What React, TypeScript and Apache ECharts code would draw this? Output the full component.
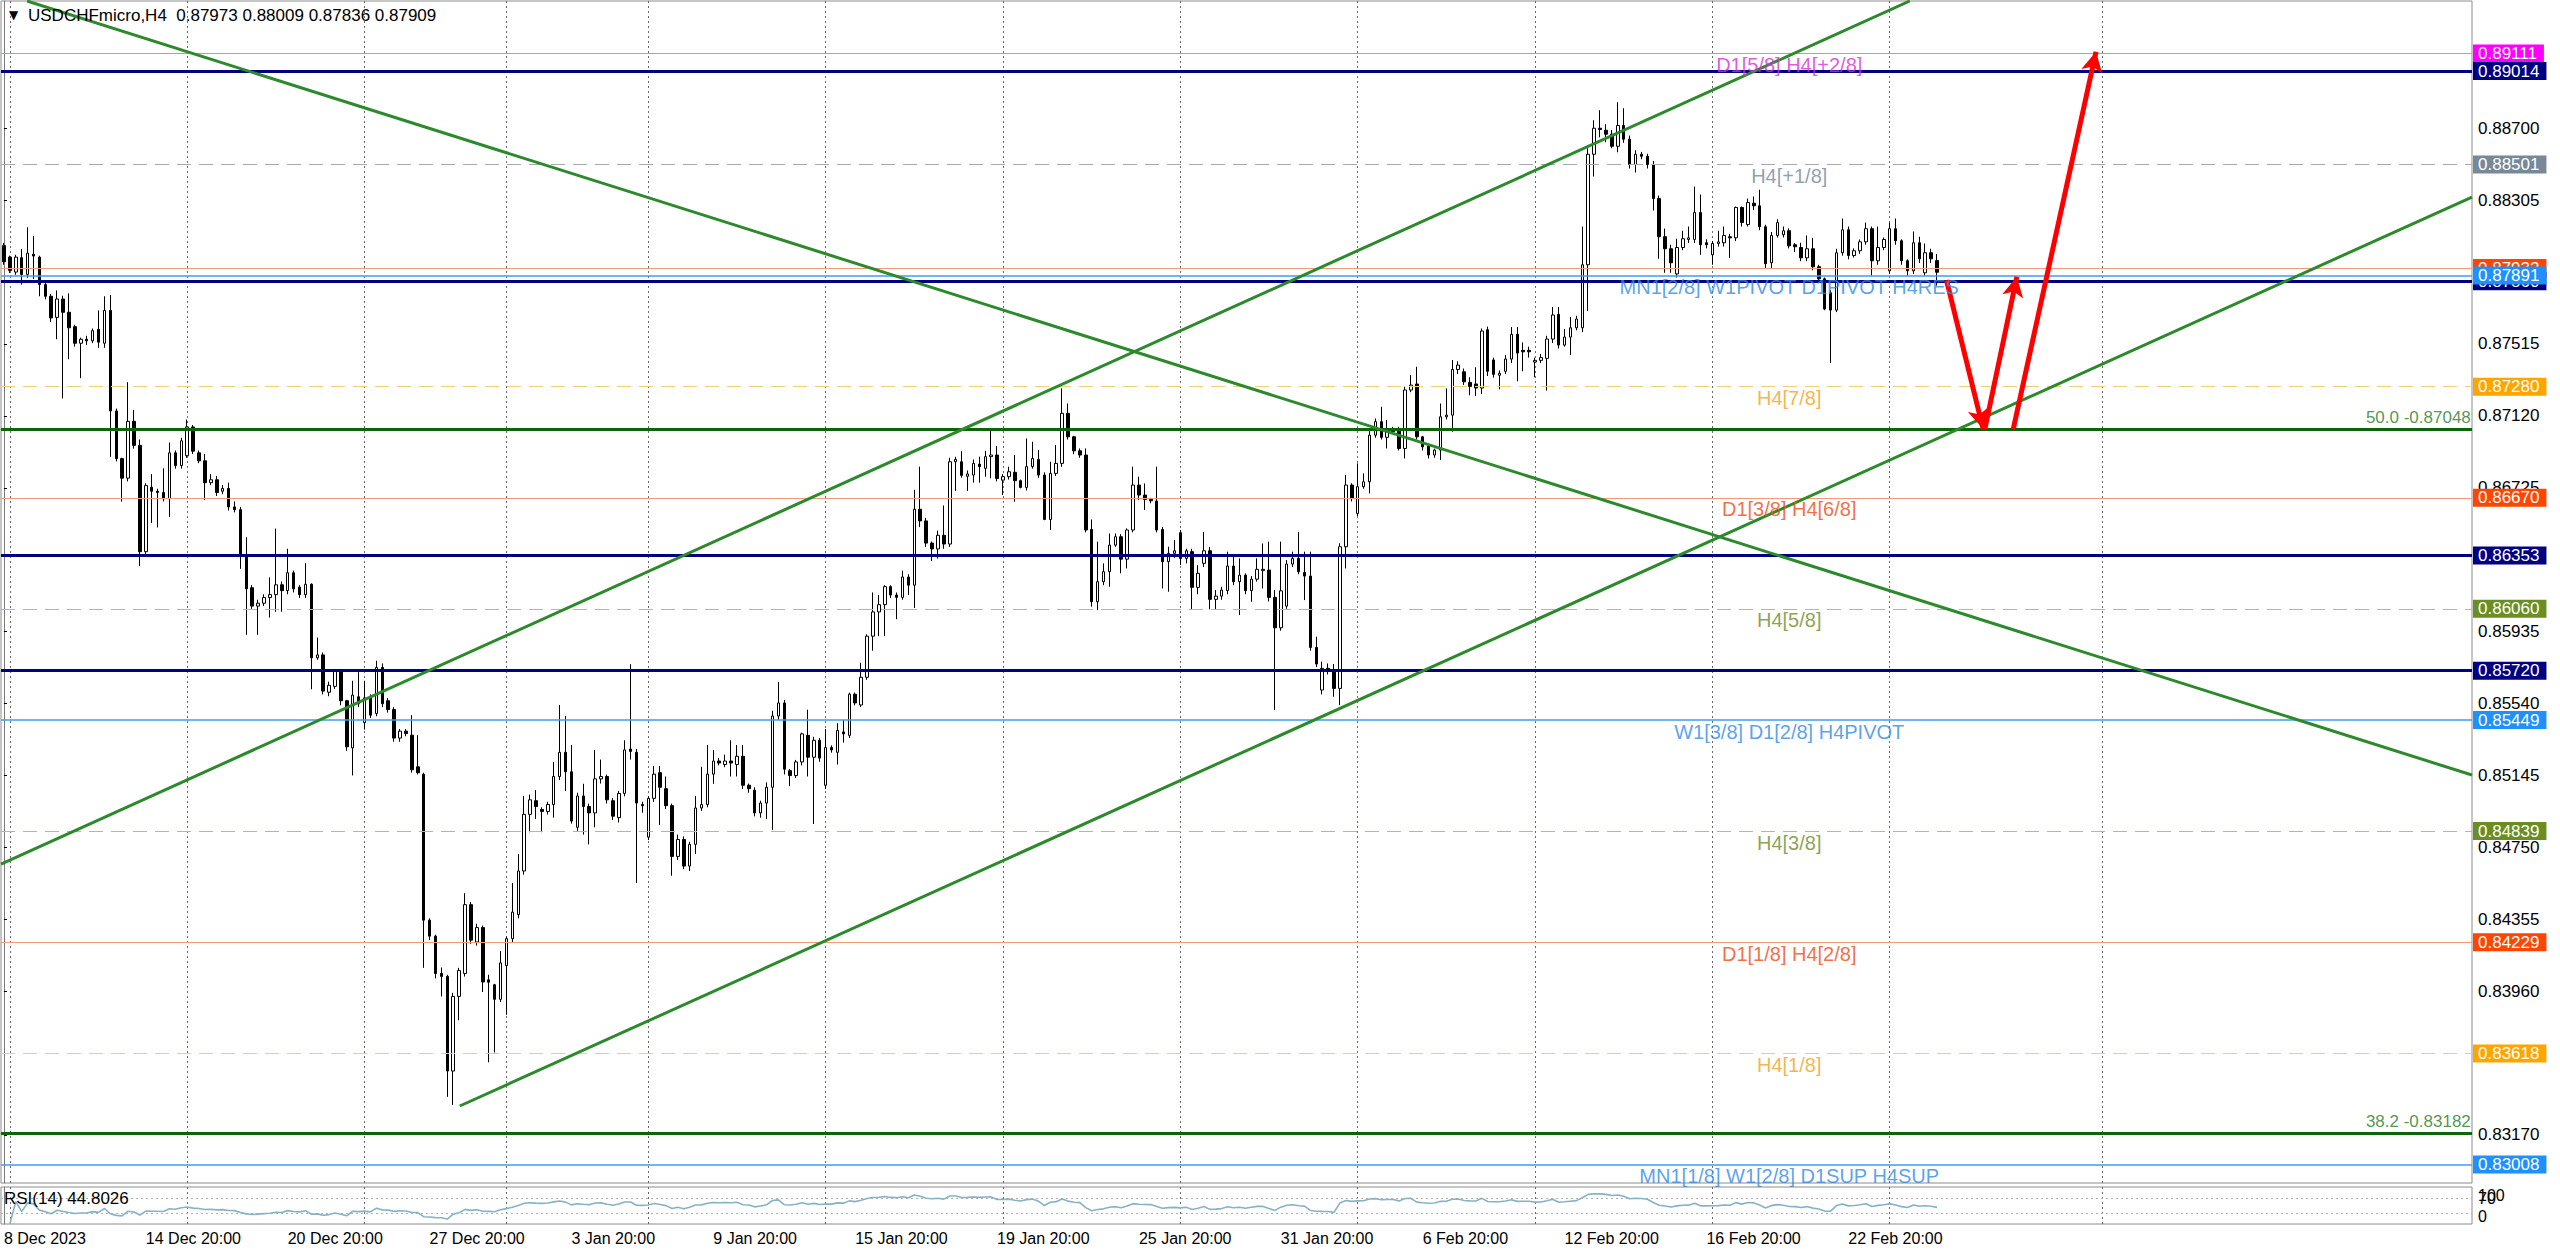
import React, { useEffect, useRef } from 'react';
import * as echarts from 'echarts';

const FONT = '"Liberation Sans", Arial, sans-serif';
const SLOTS = 418; // visible bar slots, incl. empty future area
const SCALE = 100000; // prices are stored in points

const opens = [
88055,87992,87910,87989,87897,88008,87992,87841,87777,87661,
87762,87689,87610,87519,87541,87532,87595,87519,87699,87147,
86885,86778,87090,86958,86374,86728,86706,86699,86665,86917,
86847,86901,87059,86917,86873,86753,86769,86706,86721,86620,
86605,86359,86176,86075,86091,86122,86138,86192,86160,86258,
86179,86138,86195,85791,85807,85602,85634,85719,85555,85296,
85577,85435,85577,85485,85738,85555,85507,85350,85388,85366,
85192,85151,84350,84262,84057,84041,83521,83931,84057,84435,
84230,84309,84022,83995,83915,84100,84248,84380,84620,84931,
85006,84958,84947,84985,85139,85272,85165,84860,85032,84974,
84939,85126,85139,85006,84913,85046,85290,85272,84985,84806,
85019,85160,85072,84979,84700,84793,84647,84766,84966,84985,
85152,85224,85205,85224,85205,85250,85091,85064,84939,84993,
85080,85471,85543,85171,85144,85219,85365,85245,85338,85091,
85298,85272,85384,85365,85591,85532,85684,85910,86043,86083,
86182,86136,86123,86235,86190,86607,86543,86421,86389,86464,
86416,86868,86868,86788,86795,86855,86832,86896,86905,86767,
86786,86810,86764,86727,86841,86881,86795,86551,86804,86859,
87134,87005,86928,86905,86496,86099,86209,86264,86410,86456,
86333,86493,86740,86685,86661,86652,86496,86319,86365,86478,
86337,86374,86178,86310,86379,86112,86130,86160,86295,86209,
86245,86160,86223,86270,86273,86123,85956,86075,86306,86337,
86260,86240,85848,85614,85733,85720,85623,86401,86740,86584,
86731,86758,87014,87088,87002,87042,87042,86941,87262,87295,
87005,86954,86905,86932,87115,87124,87375,87362,87304,87295,
87273,87593,87427,87343,87365,87432,87568,87480,87480,87416,
87425,87436,87542,87678,87509,87553,87604,87604,87950,88557,
88700,88689,88667,88601,88715,88640,88501,88557,88546,88501,
88314,88104,88038,87900,88045,88089,88089,88237,88071,88005,
88067,88071,88104,88098,88265,88171,88288,88274,88159,87961,
88111,88115,88137,88060,88045,87988,88038,87939,87873,87796,
87701,88016,88142,88001,88027,88076,88148,87972,88045,87917,
88148,88082,87972,87917,88071,87906,88016,87973
];

const highs = [
88070,88000,88005,88036,88156,88109,88000,87850,87790,87809,
87780,87793,87620,87550,87560,87600,87699,87777,87784,87160,
86890,87305,87153,86990,86750,86800,86720,86832,86974,86930,
87000,87100,87070,86930,86911,86800,86790,86740,86753,86650,
86620,86453,86190,86110,86140,86233,86501,86210,86390,86270,
86190,86311,86200,85902,85820,85660,85730,85730,85560,85665,
85712,85665,85590,85775,85760,85570,85520,85400,85400,85476,
85366,85160,84360,84270,84090,84050,83950,84088,84498,84450,
84330,84320,84050,84000,84180,84260,84554,84713,85032,85040,
85064,84970,85000,85219,85532,85472,85312,85050,85099,84990,
85285,85232,85150,85020,85060,85338,85756,85290,85000,85030,
85197,85197,85139,84990,84820,84810,84780,85032,85192,85312,
85285,85240,85259,85338,85312,85312,85100,85080,85006,85107,
85500,85658,85560,85180,85230,85380,85506,85357,85350,85400,
85310,85432,85450,85600,85600,85764,85920,86150,86136,86190,
86190,86150,86270,86250,86714,86841,86560,86430,86490,86628,
86890,86895,86926,86820,86880,86896,86928,87038,86954,86800,
86841,86905,86770,86996,86978,86932,86810,86868,86960,87271,
87188,87010,86941,86941,86551,86429,86310,86474,86474,86470,
86502,86841,86786,86749,86670,86841,86510,86401,86438,86493,
86390,86390,86300,86483,86400,86163,86181,86374,86346,86337,
86255,86240,86337,86419,86429,86163,86429,86328,86374,86483,
86374,86374,85907,85770,85760,85757,86420,86795,86750,86859,
86804,87051,87106,87170,87097,87060,87060,87280,87344,87390,
87010,86960,86940,87188,87271,87427,87420,87380,87332,87387,
87600,87610,87440,87370,87454,87608,87608,87524,87500,87440,
87460,87560,87718,87718,87597,87663,87670,88160,88590,88744,
88799,88722,88690,88843,88810,88660,88579,88570,88560,88520,
88330,88149,88060,88093,88137,88160,88380,88336,88090,88080,
88137,88160,88120,88270,88270,88314,88325,88362,88170,88130,
88200,88160,88150,88070,88071,88111,88098,87950,87880,87810,
88038,88204,88160,88040,88089,88182,88160,88160,88100,88182,
88204,88090,87980,88133,88104,88067,88038,88009
];

const lows = [
87950,87905,87895,87841,87878,87872,87777,87760,87636,87541,
87216,87431,87500,87327,87510,87520,87494,87494,86895,86870,
86649,86760,86940,86296,86350,86532,86507,86650,86564,86830,
86830,86890,86910,86860,86658,86740,86680,86690,86600,86590,
86280,85917,86060,85917,86075,86012,86044,86044,86140,86150,
86120,86120,85618,85780,85590,85580,85620,85530,85280,85145,
85520,85397,85460,85470,85520,85490,85330,85330,85360,85160,
85150,84088,84240,84030,83931,83379,83335,83800,84040,84220,
84210,83955,83569,83623,83900,83830,84230,84360,84600,84833,
84905,84833,84930,84913,85120,85059,84880,84840,84820,84766,
84860,85100,84990,84900,84886,85030,85232,84554,84940,84790,
85000,84873,84960,84594,84680,84630,84620,84713,84950,84970,
85099,85200,85190,85139,85139,85070,85050,84920,84913,84905,
84846,85450,85150,85086,85130,85200,85139,84878,85220,85070,
85270,85205,85325,85350,85530,85520,85670,85830,85910,85910,
86120,86003,86110,86136,86065,86509,86400,86323,86336,86390,
86400,86708,86780,86708,86753,86753,86786,86777,86760,86685,
86770,86648,86722,86710,86830,86780,86547,86493,86790,86840,
86990,86910,86890,86480,86072,86053,86190,86181,86400,86255,
86282,86480,86658,86603,86640,86480,86172,86154,86340,86300,
86310,86057,86140,86290,86057,86057,86110,86140,86190,86026,
86140,86099,86210,86172,86100,85504,85940,86060,86290,86250,
86108,85830,85740,85590,85700,85577,85531,86282,86650,86570,
86720,86694,87000,86990,86941,87020,86930,86886,87250,86990,
86930,86886,86890,86877,87100,87033,87350,87290,87233,87229,
87240,87339,87330,87266,87350,87410,87310,87365,87440,87332,
87410,87259,87520,87490,87500,87454,87590,87580,87696,88435,
88650,88623,88590,88568,88620,88479,88457,88530,88479,88248,
87983,87906,87906,87880,88030,88070,88070,88005,88040,87950,
88050,88050,87987,88080,88160,88160,88250,88140,87930,87928,
88100,88100,88040,88020,87970,87970,87920,87851,87700,87410,
87690,88000,87980,87990,88010,88060,87890,87950,88030,87900,
88060,87950,87890,87900,87960,87890,87960,87836
];

const closes = [
87967,87919,87992,87897,88014,87998,87841,87777,87658,87762,
87689,87604,87519,87541,87532,87588,87525,87699,87147,86885,
86778,87090,86958,86374,86737,86706,86699,86665,86917,86847,
86983,87059,86926,86873,86753,86769,86699,86721,86620,86605,
86359,86170,86075,86091,86122,86138,86192,86160,86258,86170,
86138,86195,85791,85807,85608,85640,85719,85555,85302,85586,
85539,85571,85476,85738,85539,85507,85350,85388,85375,85176,
85160,84350,84262,84057,84041,83521,83931,84073,84435,84240,
84309,84010,84009,83915,84115,84248,84394,84620,84931,85011,
84974,84947,84985,85139,85272,85165,84894,85032,84974,84939,
85126,85139,85011,84921,85046,85285,85277,84993,84979,85019,
85152,85080,84979,84700,84793,84647,84766,84966,84985,85152,
85224,85213,85224,85213,85250,85091,85072,84939,84993,85080,
85471,85543,85179,85144,85219,85373,85245,85338,85240,85298,
85285,85392,85373,85591,85543,85684,85910,86043,86083,86182,
86136,86123,86235,86190,86607,86543,86421,86389,86464,86416,
86868,86881,86793,86801,86859,86841,86896,86905,86776,86786,
86813,86764,86727,86841,86886,86795,86551,86804,86859,87134,
87005,86928,86905,86493,86099,86209,86264,86410,86456,86333,
86493,86740,86685,86661,86654,86493,86319,86365,86379,86337,
86379,86178,86255,86379,86112,86130,86163,86295,86209,86245,
86160,86223,86277,86277,86123,85956,86159,86306,86337,86264,
86240,85848,85757,85733,85724,85623,86401,86740,86667,86731,
86758,87014,87088,87002,87042,87033,86941,87262,87289,87005,
86950,86905,86932,87115,87124,87375,87399,87307,87282,87273,
87586,87365,87348,87354,87432,87568,87465,87472,87472,87425,
87440,87542,87674,87509,87553,87604,87652,87950,88557,88700,
88693,88667,88601,88715,88640,88501,88557,88546,88501,88314,
88104,88038,87961,88045,88093,88098,88237,88060,88060,88067,
88076,88111,88098,88265,88182,88292,88274,88159,87956,88111,
88182,88137,88054,88049,87988,88038,87939,87873,87707,87701,
88016,88142,88001,88027,88076,88148,87972,88045,88089,88148,
88082,87972,87917,88071,87983,88016,87983,87909
];

const dateLabels = [
  '8 Dec 2023', '14 Dec 20:00', '20 Dec 20:00', '27 Dec 20:00', '3 Jan 20:00',
  '9 Jan 20:00', '15 Jan 20:00', '19 Jan 20:00', '25 Jan 20:00', '31 Jan 20:00',
  '6 Feb 20:00', '12 Feb 20:00', '16 Feb 20:00', '22 Feb 20:00'
];
const LABEL_STEP = 24;
const weekStarts = [1, 31, 61, 85, 109, 139, 169, 199, 229, 259, 289, 319, 355];
const priceTicks = [0.887, 0.88305, 0.87515, 0.8712, 0.86725, 0.85935, 0.8554, 0.85145, 0.8475, 0.84355, 0.8396, 0.8317];
const rsiTopTick = [100];
const rsiBottomTick = [0];
const rsiLevels = [70, 30];

const levelPrices = [0.89111, 0.89014, 0.88501, 0.87932, 0.8786, 0.87891, 0.8728, 0.87048, 0.8667, 0.86353,
  0.8606, 0.8572, 0.85449, 0.84839, 0.84229, 0.83618, 0.83182, 0.83008];
const levelKinds = ['violet', 'navy', 'gray', 'coral', 'navy', 'blue', 'gold', 'fib', 'coral', 'navy',
  'olive', 'navy', 'blue', 'olive', 'coral', 'gold', 'fib', 'blue'];
const levelTexts = ['D1[5/8] H4[+2/8]', '', 'H4[+1/8]', '', '', 'MN1[2/8] W1PIVOT D1PIVOT H4RES', 'H4[7/8]', '',
  'D1[3/8] H4[6/8]', '', 'H4[5/8]', '', 'W1[3/8] D1[2/8] H4PIVOT', 'H4[3/8]', 'D1[1/8] H4[2/8]', 'H4[1/8]', '',
  'MN1[1/8] W1[2/8] D1SUP H4SUP'];
const fibPrices = [0.87048, 0.83182];
const fibTexts = ['50.0 -0.87048', '38.2 -0.83182'];
const currentPrice = 0.87909;

const trendLines = [
  [[3.92, 0.89399], [417.5, 0.85147]],
  [[-0.5, 0.84658], [322.4, 0.89399]],
  [[77.1, 0.83329], [417.5, 0.88322]],
];
const arrows = [
  [[328.6, 0.87866], [334.8, 0.87048]],
  [[335.1, 0.87048], [340.5, 0.87884]],
  [[339.9, 0.87048], [353.9, 0.8912]],
];
const headerText = 'USDCHFmicro,H4  0.87973 0.88009 0.87836 0.87909';
const rsiTitle = 'RSI(14) 44.8026';
const LEVEL_TEXT_SLOT = 302;

const kindStyle: Record<string, any> = {
  violet: { line: '#e07fe0', width: 1, type: 'solid', box: '#ff00ff', text: '#d82ed8' },
  navy: { line: '#000080', width: 3, type: 'solid', box: '#000080', text: '#000080' },
  gray: { line: '#a9a9a9', width: 1, type: [14, 8], box: '#778899', text: '#76869a' },
  coral: { line: '#f29a7a', width: 1, type: 'solid', box: '#ff4500', text: '#ee4a14' },
  blue: { line: '#3f9cf2', width: 1.5, type: 'solid', box: '#1e90ff', text: '#2f8ae6' },
  gold: { line: '#ecd07a', width: 1, type: [14, 8], box: '#ffa500', text: '#f59f1a' },
  olive: { line: '#b9b98f', width: 1, type: [14, 8], box: '#6b8e23', text: '#6e8a26' },
  fib: { line: '#0b650b', width: 3, type: 'solid', box: null, text: '#267a26' },
};

function computeRsi(c: number[], n: number) {
  const out: (number | null)[] = [null];
  let ag = 0, al = 0;
  for (let i = 1; i < c.length; i++) {
    const d = c[i] - c[i - 1];
    const k = Math.min(i, n);
    ag = (ag * (k - 1) + (d > 0 ? d : 0)) / k;
    al = (al * (k - 1) + (d < 0 ? -d : 0)) / k;
    out.push(al === 0 ? 100 : 100 - 100 / (1 + ag / al));
  }
  return out;
}

function boxLabel(color: string, value: number) {
  return {
    show: true, position: 'end', distance: 1,
    formatter: value.toFixed(5),
    color: '#ffffff', backgroundColor: color,
    padding: [1, 7, 0, 5], fontSize: 17, lineHeight: 17, fontFamily: FONT,
  };
}

function rsiAxis(values: number[], vAlign: string, showLine: boolean) {
  return {
    type: 'value', gridIndex: 1, position: 'right', min: 0, max: 100,
    splitLine: { show: false },
    axisLine: { show: showLine, lineStyle: { color: '#7a7a7a' } },
    axisTick: { show: false },
    axisLabel: {
      customValues: values, showMinLabel: true, showMaxLabel: true, hideOverlap: false,
      verticalAlign: vAlign, fontSize: 16, color: '#000', margin: 6, fontFamily: FONT,
    },
  };
}

export default function App() {
  const ref = useRef<HTMLDivElement>(null);
  useEffect(() => {
    if (!ref.current) return;
    const chart = echarts.init(ref.current, null, { renderer: 'svg' });
    const slots = Array.from({ length: SLOTS }, (_, i) => String(i));
    const candles = opens.map((o, i) => [o / SCALE, closes[i] / SCALE, lows[i] / SCALE, highs[i] / SCALE]);
    const rsi = computeRsi(closes, 14);

    const levelLines: any[] = [];
    levelPrices.forEach((p, i) => {
      const s = kindStyle[levelKinds[i]];
      levelLines.push({
        yAxis: p,
        lineStyle: { color: s.line, width: s.width, type: s.type },
        label: s.box ? boxLabel(s.box, p) : { show: false },
      });
      if (i === 3) {
        levelLines.push({
          yAxis: currentPrice,
          lineStyle: { color: '#000', width: 0, opacity: 0 },
          label: boxLabel('#000000', currentPrice),
        });
      }
    });

    const levelTextData: any[] = [];
    levelPrices.forEach((p, i) => {
      if (!levelTexts[i]) return;
      levelTextData.push({
        value: [LEVEL_TEXT_SLOT, p],
        label: { show: true, position: 'bottom', distance: 1, formatter: levelTexts[i], color: kindStyle[levelKinds[i]].text, fontSize: 20, fontFamily: FONT },
      });
    });
    fibPrices.forEach((p, i) => {
      levelTextData.push({
        value: [417.3, p],
        label: { show: true, position: 'top', align: 'right', distance: 2, formatter: fibTexts[i], color: kindStyle.fib.text, fontSize: 17, fontFamily: FONT },
      });
    });

    const sepLine = { color: '#6a6a6a', width: 1, type: [2, 3] };

    const option: any = {
      animation: false,
      backgroundColor: '#ffffff',
      textStyle: { fontFamily: FONT },
      grid: [
        { left: 1, top: 1, width: 2471, height: 1182, show: true, borderColor: '#8c8c8c', borderWidth: 1, backgroundColor: '#fff' },
        { left: 1, top: 1187, width: 2471, height: 37, show: true, borderColor: '#8c8c8c', borderWidth: 1, backgroundColor: '#fff' },
      ],
      xAxis: [
        { type: 'category', gridIndex: 0, data: slots, boundaryGap: true, show: false },
        { type: 'value', gridIndex: 0, min: -0.5, max: SLOTS - 0.5, show: false },
        {
          type: 'category', gridIndex: 1, data: slots, boundaryGap: true,
          axisLine: { show: false }, axisTick: { show: false }, splitLine: { show: false },
          axisLabel: {
            show: true, interval: (i: number) => i % LABEL_STEP === 0 && i / LABEL_STEP < dateLabels.length,
            formatter: (_v: string, i: number) => dateLabels[Math.round(i / LABEL_STEP)] || '',
            align: 'left', margin: 6, fontSize: 16, color: '#000', fontFamily: FONT,
          },
        },
        { type: 'value', gridIndex: 1, min: -0.5, max: SLOTS - 0.5, show: false },
      ],
      yAxis: [
        {
          type: 'value', gridIndex: 0, position: 'right', min: 0.82906, max: 0.89399, scale: true,
          splitLine: { show: false },
          axisLine: { show: true, lineStyle: { color: '#7a7a7a' } },
          axisTick: { show: true, customValues: priceTicks, length: 3, inside: false, lineStyle: { color: '#000' } },
          axisLabel: { customValues: priceTicks, formatter: (v: number) => v.toFixed(5), fontSize: 17, color: '#000', margin: 6, fontFamily: FONT },
        },
        rsiAxis(rsiLevels, 'middle', true),
        rsiAxis(rsiTopTick, 'top', false),
        rsiAxis(rsiBottomTick, 'bottom', false),
      ],
      series: [
        {
          type: 'line', name: 'sepMain', xAxisIndex: 1, yAxisIndex: 0, data: [], z: 1, silent: true,
          markLine: { silent: true, symbol: 'none', z: 1, label: { show: false }, lineStyle: sepLine, data: weekStarts.map((w) => ({ xAxis: w })) },
        },
        {
          type: 'line', name: 'sepRsi', xAxisIndex: 3, yAxisIndex: 1, data: [], z: 1, silent: true,
          markLine: {
            silent: true, symbol: 'none', z: 1, label: { show: false }, lineStyle: sepLine,
            data: [...weekStarts.map((w) => ({ xAxis: w })), ...rsiLevels.map((l) => ({ yAxis: l, lineStyle: { color: '#b0b0b0', type: [2, 3], width: 1 } }))],
          },
        },
        {
          type: 'candlestick', name: 'USDCHF', xAxisIndex: 0, yAxisIndex: 0, data: candles, barWidth: 3, z: 3,
          itemStyle: { color: '#ffffff', color0: '#000000', borderColor: '#000000', borderColor0: '#000000', borderWidth: 1 },
          silent: true,
        },
        {
          type: 'line', name: 'levels', xAxisIndex: 1, yAxisIndex: 0, data: [], clip: false, z: 4, silent: true,
          markLine: { silent: true, symbol: 'none', z: 4, precision: 5, data: levelLines },
        },
        ...trendLines.map((t, k) => ({
          type: 'line', name: 'trend' + k, xAxisIndex: 1, yAxisIndex: 0, data: t, symbol: 'none', z: 5, silent: true,
          lineStyle: { color: '#2c8a2c', width: 3 }, clip: true,
        })),
        {
          type: 'line', name: 'arrows', xAxisIndex: 1, yAxisIndex: 0, data: [], clip: false, z: 6, silent: true,
          markLine: {
            silent: true, symbol: ['none', 'arrow'], symbolSize: [16, 20], z: 6, label: { show: false },
            lineStyle: { color: '#ff0000', width: 5, type: 'solid' },
            data: arrows.map((a) => [{ coord: a[0] }, { coord: a[1] }]),
          },
        },
        {
          type: 'scatter', name: 'levelText', xAxisIndex: 1, yAxisIndex: 0, data: levelTextData, symbolSize: 1, z: 7, silent: true,
          itemStyle: { color: 'rgba(0,0,0,0)' },
        },
        {
          type: 'line', name: 'RSI', xAxisIndex: 2, yAxisIndex: 1, data: rsi, symbol: 'none', z: 3, silent: true,
          lineStyle: { color: '#86b2c6', width: 1.6 },
        },
      ],
      graphic: [
        { type: 'text', left: 9, top: 9, style: { text: '▼', fontSize: 12, fontFamily: '"DejaVu Sans"', fill: '#000' }, z: 10 },
        { type: 'text', left: 28, top: 7, style: { text: headerText, fontSize: 17, fontFamily: FONT, fill: '#000' }, z: 10 },
        { type: 'text', left: 4, top: 1190, style: { text: rsiTitle, fontSize: 17, fontFamily: FONT, fill: '#000' }, z: 10 },
      ],
    };
    chart.setOption(option);
    return () => chart.dispose();
  }, []);
  return <div ref={ref} style={{ position: 'fixed', left: 0, top: 0, width: 2560, height: 1253, background: '#fff' }} />;
}
